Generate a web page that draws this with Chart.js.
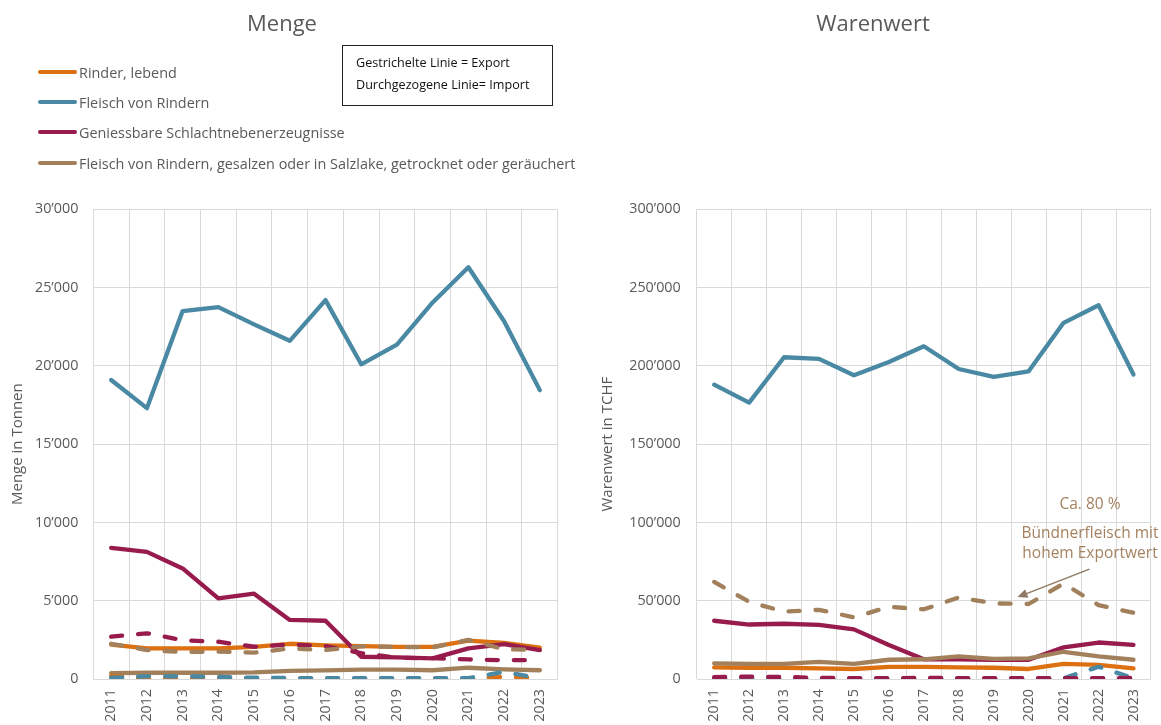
<!DOCTYPE html>
<html>
<head>
<meta charset="utf-8">
<script src="https://cdn.jsdelivr.net/npm/chart.js@4"></script>
<style>
  html, body { margin:0; padding:0; background:#fff; }
  #wrap { position:relative; width:1161px; height:725px; background:#fff; overflow:hidden; font-family:'Open Sans', sans-serif; color:#595959; }
  canvas { position:absolute; top:0; }
  .title { position:absolute; top:7px; width:300px; text-align:center; font-size:22px; color:#595959; }
  .leg { position:absolute; left:38px; height:20px; font-size:14.4px; color:#595959; white-space:nowrap; }
  .leg span.ln { display:inline-block; width:39px; height:4px; border-radius:2px; vertical-align:middle; margin-right:2px; }
  .leg span.tx { vertical-align:middle; }
  #box { position:absolute; left:342px; top:45px; width:209px; height:59px; border:1px solid #222; font-size:12.6px; color:#111; }
  #box div { position:absolute; left:13px; white-space:nowrap; }
  .ann { position:absolute; width:180px; text-align:center; font-size:15.5px; color:#a4825f; white-space:nowrap; line-height:20px; }
</style>
</head>
<body>
<div id="wrap">
  <canvas id="c1" width="590" height="725" style="left:0"></canvas>
  <canvas id="c2" width="571" height="725" style="left:590px"></canvas>
  <div class="title" style="left:132px">Menge</div>
  <div class="title" style="left:723px">Warenwert</div>
  <div id="legend"></div>
  <div id="box">
    <div style="top:8px">Gestrichelte Linie = Export</div>
    <div style="top:30px">Durchgezogene Linie= Import</div>
  </div>
  <div class="ann" style="left:1000px; top:493px">Ca. 80 %</div>
  <div class="ann" style="left:1000px; top:522px">Bündnerfleisch mit<br>hohem Exportwert</div>
</div>
<script>
// ---------- data ----------
const years = ['2011','2012','2013','2014','2015','2016','2017','2018','2019','2020','2021','2022','2023'];

const seriesNames = [
  'Rinder, lebend',
  'Fleisch von Rindern',
  'Geniessbare Schlachtnebenerzeugnisse',
  'Fleisch von Rindern, gesalzen oder in Salzlake, getrocknet oder geräuchert'
];
const seriesColors = ['#dd7011', '#4a89a3', '#981b4d', '#a2805c'];

// Menge in Tonnen – Import (solid)
const mengeRinderImport    = [2200, 1950, 1950, 1950, 2050, 2250, 2150, 2100, 2050, 2050, 2450, 2300, 2000];
const mengeFleischImport   = [19100, 17300, 23500, 23750, 22650, 21600, 24200, 20100, 21350, 24050, 26300, 22850, 18450];
const mengeNebenImport     = [8380, 8120, 7060, 5150, 5450, 3770, 3720, 1420, 1380, 1320, 1960, 2230, 1850];
const mengeGesalzenImport  = [380, 400, 400, 400, 420, 520, 550, 600, 600, 560, 720, 620, 560];
// Menge in Tonnen – Export (dashed)
const mengeRinderExport    = [200, 40, 30, 30, 30, 30, 30, 30, 30, 30, 30, 150, 50];
const mengeFleischExport   = [80, 170, 170, 140, 80, 60, 60, 60, 60, 60, 60, 450, 50];
const mengeNebenExport     = [2700, 2920, 2480, 2380, 2060, 2200, 2100, 1650, 1350, 1330, 1250, 1200, 1200];
const mengeGesalzenExport  = [2250, 1850, 1720, 1750, 1680, 1950, 1850, 2080, 2050, 2020, 2500, 1900, 1850];

// Warenwert in TCHF – Import (solid)
const wertRinderImport     = [7400, 7200, 7200, 6800, 6400, 7700, 7700, 7400, 7200, 6400, 9600, 9000, 6800];
const wertFleischImport    = [188000, 176500, 205500, 204500, 194000, 202500, 212500, 198000, 193000, 196500, 227500, 238700, 194500];
const wertNebenImport      = [37200, 34800, 35300, 34600, 31700, 21700, 12600, 12600, 12300, 12300, 20200, 23300, 21800];
const wertGesalzenImport   = [10000, 9600, 9600, 11000, 9600, 12300, 12600, 14500, 12800, 13200, 17400, 14500, 12300];
// Warenwert in TCHF – Export (dashed)
const wertRinderExport     = [300, 200, 200, 150, 150, 150, 150, 150, 150, 150, 150, 150, 150];
const wertFleischExport    = [300, 300, 300, 300, 300, 300, 300, 300, 300, 300, 500, 7800, 500];
const wertNebenExport      = [1200, 1500, 1300, 700, 600, 500, 800, 500, 500, 500, 500, 500, 700];
const wertGesalzenExport   = [62000, 49300, 43000, 44200, 39400, 46100, 44500, 52100, 48300, 47900, 61000, 47200, 42300];

// y-axis ticks
const mengeTicks = [0, 5000, 10000, 15000, 20000, 25000, 30000];
const wertTicks  = [0, 50000, 100000, 150000, 200000, 250000, 300000];

// annotation anchors (category index, value) on the Warenwert chart
const annotationTail = [10.74, 70200];
const annotationTip  = [8.68, 52300];

// ---------- helpers ----------
const FONT = "'Open Sans', sans-serif";
const GRID = '#d9d9d9';
const TXT = '#595959';
const fmt = v => String(v).replace(/\B(?=(\d{3})+(?!\d))/g, '\u2019');

function makeDatasets(imports, exports) {
  const ds = [];
  imports.forEach((d, i) => ds.push({
    label: seriesNames[i] + ' (Import)', data: d, borderColor: seriesColors[i], backgroundColor: seriesColors[i],
    borderWidth: 4.3, pointRadius: 0, pointHoverRadius: 0, tension: 0, borderJoinStyle: 'round', borderCapStyle: 'round', fill: false
  }));
  exports.forEach((d, i) => ds.push({
    label: seriesNames[i] + ' (Export)', data: d, borderColor: seriesColors[i], backgroundColor: seriesColors[i],
    borderWidth: 4.3, borderDash: [11, 16], pointRadius: 0, pointHoverRadius: 0, tension: 0, borderJoinStyle: 'round', borderCapStyle: 'round', fill: false
  }));
  // Chart.js draws the first dataset on top; Excel draws later series on top
  return ds.reverse();
}

function makeOptions(maxV, ticks, title, yWidth, rightPad, tickPad, titlePad) {
  return {
    responsive: false,
    devicePixelRatio: 1,
    animation: false,
    events: [],
    layout: { padding: { top: 209.3, right: rightPad, bottom: 0, left: 0 } },
    plugins: { legend: { display: false }, tooltip: { enabled: false }, title: { display: false } },
    scales: {
      x: {
        type: 'category', offset: true,
        grid: { offset: true, color: GRID, lineWidth: 1, drawTicks: false },
        border: { display: false },
        ticks: { color: TXT, font: { family: FONT, size: 14.3 }, minRotation: 90, maxRotation: 90, autoSkip: false, padding: 10 },
        afterFit: s => { s.height = 46; }
      },
      y: {
        min: 0, max: maxV,
        afterBuildTicks: s => { s.ticks = ticks.map(v => ({ value: v })); },
        grid: { color: GRID, lineWidth: 1, drawTicks: false },
        border: { display: false },
        ticks: { color: TXT, font: { family: FONT, size: 14.3 }, padding: tickPad, callback: v => fmt(v) },
        title: { display: true, text: title, color: TXT, font: { family: FONT, size: 15 }, padding: { top: titlePad, bottom: 0 } },
        afterFit: s => { s.width = yWidth; }
      }
    }
  };
}

const arrowPlugin = {
  id: 'annotArrow',
  afterDatasetsDraw(chart) {
    const { ctx, scales: { x, y } } = chart;
    const x0 = x.getPixelForValue(annotationTail[0]), y0 = y.getPixelForValue(annotationTail[1]);
    const x1 = x.getPixelForValue(annotationTip[0]),  y1 = y.getPixelForValue(annotationTip[1]);
    const ang = Math.atan2(y1 - y0, x1 - x0);
    ctx.save();
    ctx.strokeStyle = '#8f7a66';
    ctx.fillStyle = '#8f7a66';
    ctx.lineWidth = 1.5;
    ctx.beginPath();
    ctx.moveTo(x0, y0);
    ctx.lineTo(x1 - 7 * Math.cos(ang), y1 - 7 * Math.sin(ang));
    ctx.stroke();
    ctx.beginPath();
    ctx.moveTo(x1, y1);
    ctx.lineTo(x1 - 10 * Math.cos(ang) + 4.5 * Math.sin(ang), y1 - 10 * Math.sin(ang) - 4.5 * Math.cos(ang));
    ctx.lineTo(x1 - 10 * Math.cos(ang) - 4.5 * Math.sin(ang), y1 - 10 * Math.sin(ang) + 4.5 * Math.cos(ang));
    ctx.closePath();
    ctx.fill();
    ctx.restore();
  }
};

// ---------- legend (HTML) ----------
const legendTops = [61, 91, 121, 152];
const legEl = document.getElementById('legend');
seriesNames.forEach((n, i) => {
  const d = document.createElement('div');
  d.className = 'leg';
  d.style.top = legendTops[i] + 'px';
  d.innerHTML = '<span class="ln" style="background:' + seriesColors[i] + '"></span><span class="tx"></span>';
  d.querySelector('.tx').textContent = n;
  legEl.appendChild(d);
});

// ---------- charts ----------
new Chart(document.getElementById('c1'), {
  type: 'line',
  data: {
    labels: years,
    datasets: makeDatasets(
      [mengeRinderImport, mengeFleischImport, mengeNebenImport, mengeGesalzenImport],
      [mengeRinderExport, mengeFleischExport, mengeNebenExport, mengeGesalzenExport])
  },
  options: makeOptions(30000, mengeTicks, 'Menge in Tonnen', 93.3, 32.3, 15, 9)
});

new Chart(document.getElementById('c2'), {
  type: 'line',
  data: {
    labels: years,
    datasets: makeDatasets(
      [wertRinderImport, wertFleischImport, wertNebenImport, wertGesalzenImport],
      [wertRinderExport, wertFleischExport, wertNebenExport, wertGesalzenExport])
  },
  options: makeOptions(300000, wertTicks, 'Warenwert in TCHF', 106.7, 9.3, 16, 9),
  plugins: [arrowPlugin]
});
</script>
</body>
</html>
